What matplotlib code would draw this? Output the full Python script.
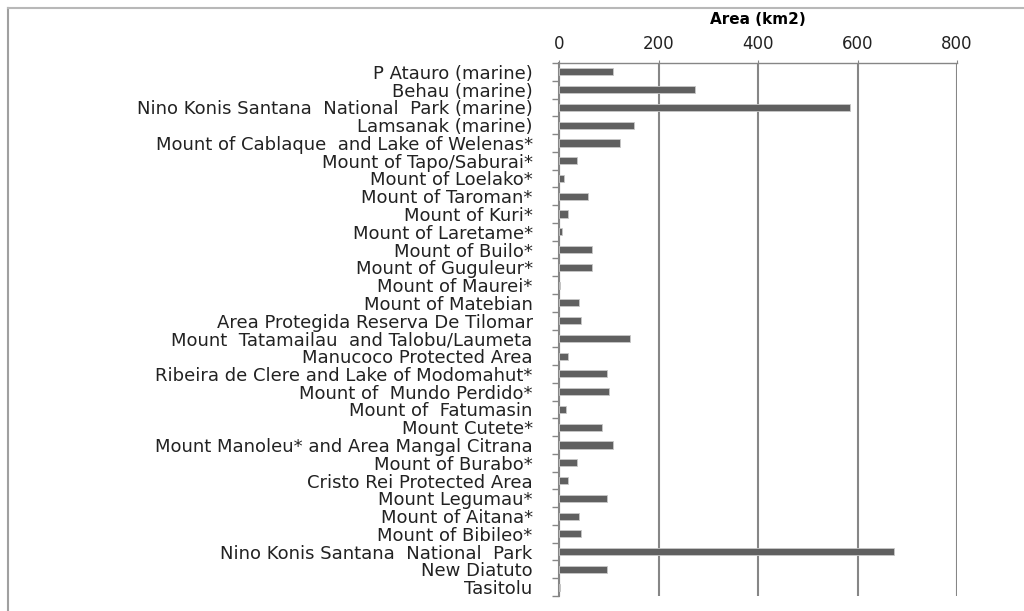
import matplotlib.pyplot as plt
from matplotlib.lines import Line2D
import numpy as np

plt.rcParams["font.family"] = ["DejaVu Sans"]

# aree protette di Timor-Leste, dall'alto verso il basso
areas = [
    "P Atauro (marine)",
    "Behau (marine)",
    "Nino Konis Santana  National  Park (marine)",
    "Lamsanak (marine)",
    "Mount of Cablaque  and Lake of Welenas*",
    "Mount of Tapo/Saburai*",
    "Mount of Loelako*",
    "Mount of Taroman*",
    "Mount of Kuri*",
    "Mount of Laretame*",
    "Mount of Builo*",
    "Mount of Guguleur*",
    "Mount of Maurei*",
    "Mount of Matebian",
    "Area Protegida Reserva De Tilomar",
    "Mount  Tatamailau  and Talobu/Laumeta",
    "Manucoco Protected Area",
    "Ribeira de Clere and Lake of Modomahut*",
    "Mount of  Mundo Perdido*",
    "Mount of  Fatumasin",
    "Mount Cutete*",
    "Mount Manoleu* and Area Mangal Citrana",
    "Mount of Burabo*",
    "Cristo Rei Protected Area",
    "Mount Legumau*",
    "Mount of Aitana*",
    "Mount of Bibileo*",
    "Nino Konis Santana  National  Park",
    "New Diatuto",
    "Tasitolu",
]
km2 = [108, 274, 585, 150, 123, 36, 10, 59, 18, 6, 66, 66, 2, 40,
       44, 142, 18, 97, 100, 14, 86, 108, 36, 18, 97, 40, 44, 673, 97, 1]
xticks = [0, 200, 400, 600, 800]

grey = "#868686"

fig = plt.figure(figsize=(10.24, 6.11), dpi=100)
ax = fig.add_axes([0.546, 0.0245, 0.3886, 0.8724])

y = np.arange(len(areas))
ax.barh(y, km2, height=0.4, color="#606060", edgecolor="#c8c8c8", linewidth=0.6, zorder=3)

ax.set_xlim(0, 800)
ax.set_ylim(len(areas) - 0.5, -0.5)
ax.set_xticks(xticks)
ax.xaxis.tick_top()
ax.xaxis.set_label_position("top")
ax.tick_params(axis="x", length=2, color=grey, pad=5, labelsize=12, labelcolor="#222222")
ax.set_xlabel("Area (km2)", fontsize=11, fontweight="bold", labelpad=8)
ax.grid(axis="x", color=grey, linewidth=1.5, zorder=1)

ax.set_yticks(y)
ax.set_yticklabels(areas, fontsize=13, color="#222222")
ax.set_yticks(np.arange(len(areas) + 1) - 0.5, minor=True)
ax.tick_params(axis="y", which="major", length=0, pad=19)
ax.tick_params(axis="y", which="minor", length=5, color=grey, width=1)

for s in ["right", "bottom"]:
    ax.spines[s].set_visible(False)
ax.spines["left"].set_color(grey)
ax.spines["left"].set_linewidth(1.5)
ax.spines["top"].set_color(grey)
ax.spines["top"].set_linewidth(1)

# bordo del grafico
fig.add_artist(Line2D([0.0078, 0.0078], [0, 0.987], color="#a0a0a0", linewidth=1.5))
fig.add_artist(Line2D([0.0078, 1], [0.987, 0.987], color="#b8b8b8", linewidth=1.5))

fig.savefig("out.png", dpi=100)
